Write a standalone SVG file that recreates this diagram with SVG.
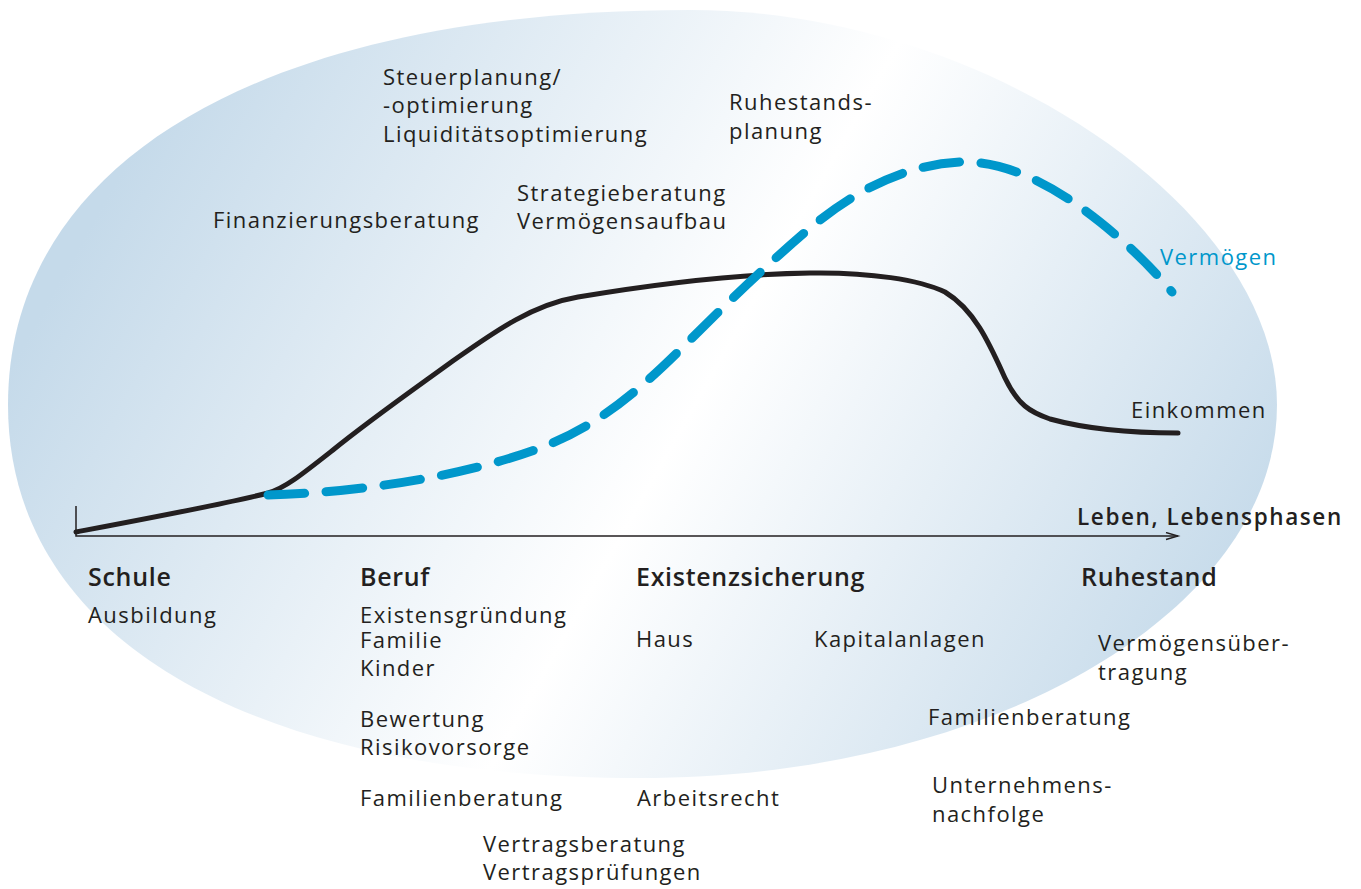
<svg xmlns="http://www.w3.org/2000/svg" width="1361" height="889" viewBox="0 0 1361 889">
<defs>
<linearGradient id="bg" gradientUnits="userSpaceOnUse" x1="150" y1="120" x2="1180" y2="700">
<stop offset="0" stop-color="#c5daea"/>
<stop offset="0.52" stop-color="#ffffff"/>
<stop offset="1" stop-color="#c5daea"/>
</linearGradient>
<marker id="arr" markerUnits="userSpaceOnUse" markerWidth="16" markerHeight="10" refX="13" refY="4" orient="auto">
<path d="M1,0.5 L13,4 L1,7.5" fill="none" stroke="#231f20" stroke-width="1.4"/>
</marker>
<style>
.t{font-family:"Open Sans","Liberation Sans",sans-serif;font-size:22px;fill:#231f20;letter-spacing:1.45px}
.b{font-family:"Open Sans","Liberation Sans",sans-serif;font-size:25px;font-weight:600;fill:#231f20;letter-spacing:0.7px}
.ax{font-family:"Open Sans","Liberation Sans",sans-serif;font-size:22.5px;font-weight:600;fill:#231f20;letter-spacing:1.6px}
.blue{fill:#0097cb}
.axis{fill:none;stroke:#231f20;stroke-width:1.5}
.ink{fill:none;stroke:#231f20;stroke-width:5;stroke-linecap:round;stroke-linejoin:round}
.verm{fill:none;stroke:#0097cb;stroke-width:9;stroke-linecap:round;stroke-dasharray:36 21}
</style>
</defs>
<g id="background">
<path fill="url(#bg)" d="M8,405 C8,160 267,10 690,10 C983.5,10 1277,207.5 1277,405 C1277,611 991.6,778 640,778 C248,778 8,636 8,405 Z"/>
</g>
<g id="connectors">
<path class="axis" d="M76,506 L76,536 L1178,536" marker-end="url(#arr)"/>
<path id="einkommen-curve" class="ink" d="M76,532 C150,518 230,503 268,493 C285,488 300,476 333,450 C370,420 410,392 450,363 C490,335 530,305 578,297 C650,285 740,274 810,273 C870,272 920,280 945,292 C975,310 990,345 1005,378 C1018,405 1030,412 1050,419 C1090,430 1140,433 1178,433"/>
<path id="vermoegen-curve" class="verm" pathLength="1028" d="M268,495 C350,493 460,478 540,448 C600,425 640,390 690,340 C730,300 770,262 810,228 C850,195 900,165 960,162 C1010,160 1060,190 1100,222 C1135,250 1158,275 1172,292"/>
</g>
<g id="steuerplanung"><text class="t" x="383" y="85">Steuerplanung/</text><text class="t" x="383" y="113">-optimierung</text><text class="t" x="383" y="142">Liquiditätsoptimierung</text></g>
<g id="ruhestandsplanung"><text class="t" x="729" y="110">Ruhestands-</text><text class="t" x="729" y="139">planung</text></g>
<g id="finanzierungsberatung"><text class="t" x="213" y="228">Finanzierungsberatung</text></g>
<g id="strategieberatung"><text class="t" x="517" y="201">Strategieberatung</text><text class="t" x="517" y="229">Vermögensaufbau</text></g>
<g id="vermoegen-label"><text class="t blue" x="1160" y="265">Vermögen</text></g>
<g id="einkommen-label"><text class="t" x="1131" y="418">Einkommen</text></g>
<g id="axis-label"><text class="ax" x="1077" y="525">Leben, Lebensphasen</text></g>
<g id="schule"><text class="b" x="88" y="586">Schule</text><text class="t" x="88" y="623">Ausbildung</text></g>
<g id="beruf"><text class="b" x="360" y="586">Beruf</text><text class="t" x="360" y="623">Existensgründung</text><text class="t" x="360" y="648">Familie</text><text class="t" x="360" y="676">Kinder</text><text class="t" x="360" y="727">Bewertung</text><text class="t" x="360" y="755">Risikovorsorge</text><text class="t" x="360" y="806">Familienberatung</text></g>
<g id="vertragsberatung"><text class="t" x="483" y="852">Vertragsberatung</text><text class="t" x="483" y="880">Vertragsprüfungen</text></g>
<g id="existenzsicherung"><text class="b" x="636" y="586">Existenzsicherung</text><text class="t" x="636" y="647">Haus</text><text class="t" x="637" y="806">Arbeitsrecht</text></g>
<g id="kapitalanlagen"><text class="t" x="814" y="647">Kapitalanlagen</text></g>
<g id="ruhestand"><text class="b" x="1081" y="586">Ruhestand</text><text class="t" x="1098" y="651">Vermögensüber-</text><text class="t" x="1098" y="680">tragung</text></g>
<g id="familienberatung-2"><text class="t" x="928" y="725">Familienberatung</text></g>
<g id="unternehmensnachfolge"><text class="t" x="932" y="793">Unternehmens-</text><text class="t" x="932" y="822">nachfolge</text></g>
</svg>
